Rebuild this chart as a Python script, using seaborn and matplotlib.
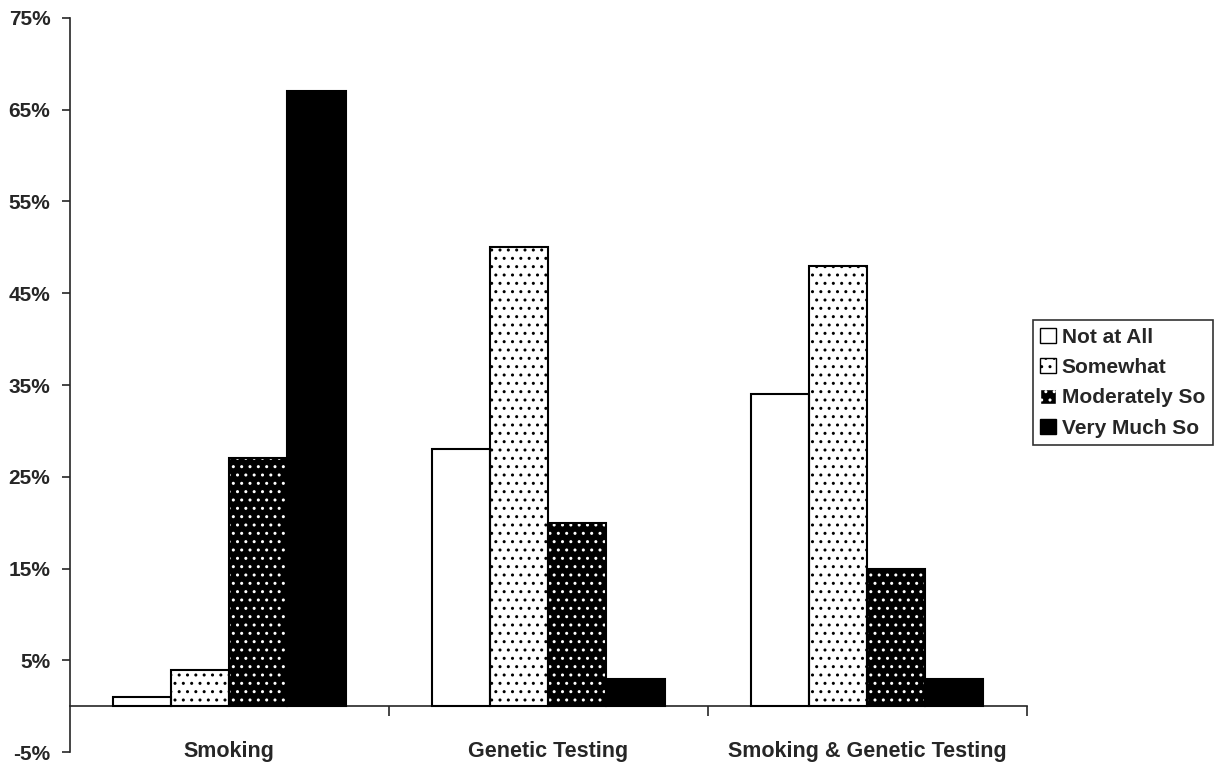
import seaborn as sns
import matplotlib.pyplot as plt
import matplotlib.patches as mpatches
import pandas as pd

# Data (percent of respondents)
topics = ["Smoking", "Genetic Testing", "Smoking & Genetic Testing"]
levels = ["Not at All", "Somewhat", "Moderately So", "Very Much So"]
not_at_all = [1, 28, 34]
somewhat = [4, 50, 48]
moderately = [27, 20, 15]
very_much = [67, 3, 3]
y_ticks = [-5, 5, 15, 25, 35, 45, 55, 65, 75]

df = pd.DataFrame({
    "topic": topics * 4,
    "level": [lv for lv in levels for _ in topics],
    "pct": not_at_all + somewhat + moderately + very_much,
})

sns.set_style("white")
plt.rcParams['font.family'] = ['Liberation Sans', 'DejaVu Sans']
plt.rcParams['font.weight'] = 'bold'
plt.rcParams['hatch.linewidth'] = 1.0

# face colour, hatch colour, hatch pattern for each answer level
styles = {
    "Not at All": ("white", "black", ""),
    "Somewhat": ("white", "black", ".."),
    "Moderately So": ("black", "white", ".."),
    "Very Much So": ("black", "black", ""),
}

fig = plt.figure(figsize=(12.25, 7.7), dpi=100)
ax = fig.add_axes([0.057, 0.023, 0.781, 0.954])

sns.barplot(data=df, x="topic", y="pct", hue="level", order=topics, hue_order=levels,
            palette=["white"] * 4, width=0.73, gap=0, saturation=1, ax=ax, legend=False)

for level, container in zip(levels, ax.containers):
    face, hcol, hatch = styles[level]
    for bar in container:
        bar.set_facecolor(face)
        bar.set_edgecolor(hcol)
        bar.set_hatch(hatch)
        bar.set_linewidth(0)
        # black outline on top
        ax.add_patch(mpatches.Rectangle(bar.get_xy(), bar.get_width(), bar.get_height(),
                                        fill=False, edgecolor="black", linewidth=1.5, zorder=3))

ax.set_ylim(-5, 75)
ax.set_xlim(-0.5, 2.5)
ax.set_yticks(y_ticks)
ax.set_yticklabels([f"{t}%" for t in y_ticks], fontsize=15, fontweight='bold')
ax.tick_params(axis='y', direction='out', length=6, width=1.2, pad=8, left=True)

# x axis sits on the zero line, category labels further down
ax.spines['bottom'].set_position(('data', 0))
ax.spines['top'].set_visible(False)
ax.spines['right'].set_visible(False)
ax.spines['left'].set_linewidth(1.2)
ax.spines['bottom'].set_linewidth(1.2)
ax.set_xticks([0, 1, 2])
ax.set_xticklabels(topics, fontsize=15.5, fontweight='bold')
ax.set_xticks([0.5, 1.5, 2.5], minor=True)
ax.tick_params(axis='x', which='major', length=0, pad=25)
ax.tick_params(axis='x', which='minor', direction='out', length=7, width=1.2, bottom=True)
ax.set_xlabel("")
ax.set_ylabel("")

handles = []
for level in levels:
    face, hcol, hatch = styles[level]
    handles.append(mpatches.Rectangle((0, 0), 1, 1, facecolor=face, edgecolor=hcol,
                                      hatch=hatch, linewidth=0))
leg = fig.legend(handles, levels, loc='center left', bbox_to_anchor=(0.843, 0.503),
                 borderaxespad=0, fontsize=15, frameon=True, fancybox=False,
                 handlelength=0.75, handleheight=0.75, handletextpad=0.3,
                 borderpad=0.35, labelspacing=0.55)
leg.get_frame().set_edgecolor("black")
leg.get_frame().set_linewidth(1.2)
for patch in leg.get_patches():
    patch.set_linewidth(1.0)
for text in leg.get_texts():
    text.set_fontweight('bold')

fig.savefig("out.png", dpi=100)
